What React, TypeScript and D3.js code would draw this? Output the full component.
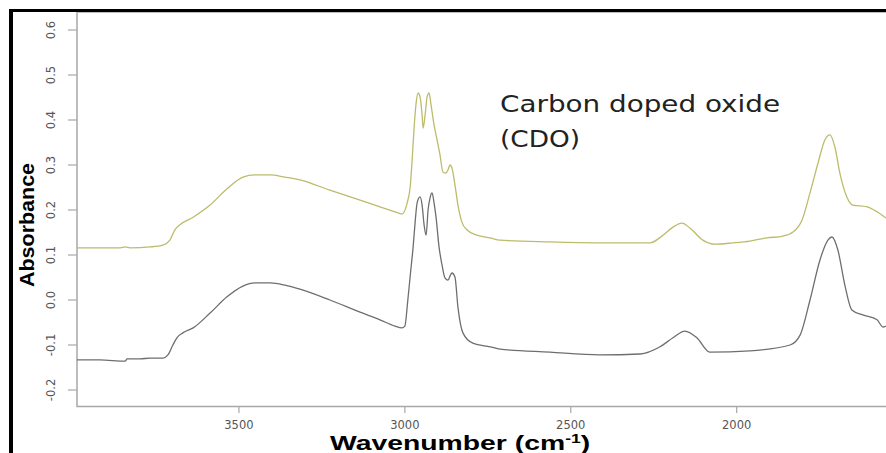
import React from "react";
import * as d3 from "d3";

const cdoWavenumber = [3988, 3919, 3858, 3843, 3828, 3768, 3729, 3708, 3693, 3678, 3638, 3587, 3536, 3488, 3452, 3406, 3361, 3316, 3226, 3135, 3075, 3030, 3009, 2993, 2984, 2978, 2972, 2966, 2960, 2954, 2948, 2945, 2939, 2933, 2927, 2921, 2912, 2903, 2894, 2885, 2876, 2870, 2864, 2858, 2849, 2840, 2828, 2813, 2783, 2743, 2713, 2563, 2412, 2291, 2261, 2222, 2192, 2165, 2141, 2102, 2066, 2011, 1960, 1909, 1860, 1830, 1803, 1779, 1755, 1734, 1719, 1704, 1689, 1668, 1650, 1607, 1577, 1550];
const cdoAbsorbance = [0.116, 0.116, 0.116, 0.118, 0.116, 0.118, 0.122, 0.133, 0.156, 0.167, 0.184, 0.211, 0.247, 0.273, 0.278, 0.278, 0.273, 0.267, 0.244, 0.222, 0.207, 0.196, 0.191, 0.216, 0.251, 0.311, 0.384, 0.438, 0.46, 0.451, 0.411, 0.382, 0.411, 0.451, 0.46, 0.433, 0.389, 0.356, 0.322, 0.284, 0.282, 0.289, 0.3, 0.293, 0.256, 0.211, 0.173, 0.156, 0.144, 0.138, 0.133, 0.129, 0.127, 0.127, 0.127, 0.144, 0.162, 0.171, 0.16, 0.133, 0.124, 0.127, 0.131, 0.138, 0.142, 0.151, 0.178, 0.238, 0.304, 0.356, 0.367, 0.34, 0.282, 0.229, 0.211, 0.207, 0.196, 0.182];

const refWavenumber = [3988, 3919, 3843, 3837, 3798, 3768, 3729, 3714, 3699, 3687, 3669, 3638, 3587, 3536, 3488, 3452, 3406, 3361, 3316, 3226, 3135, 3075, 3030, 3009, 3000, 2991, 2982, 2975, 2969, 2963, 2954, 2948, 2942, 2936, 2930, 2924, 2918, 2912, 2906, 2897, 2888, 2879, 2870, 2864, 2858, 2849, 2840, 2825, 2795, 2743, 2713, 2563, 2412, 2291, 2231, 2192, 2156, 2120, 2081, 1960, 1839, 1809, 1779, 1749, 1725, 1713, 1695, 1674, 1653, 1620, 1577, 1559, 1550];
const refAbsorbance = [-0.133, -0.133, -0.136, -0.131, -0.131, -0.129, -0.129, -0.122, -0.1, -0.084, -0.073, -0.062, -0.029, 0.007, 0.031, 0.038, 0.038, 0.033, 0.024, 0.0, -0.027, -0.044, -0.058, -0.062, -0.058, 0.0, 0.067, 0.118, 0.173, 0.216, 0.229, 0.211, 0.167, 0.144, 0.2, 0.227, 0.238, 0.216, 0.184, 0.118, 0.078, 0.049, 0.044, 0.053, 0.06, 0.051, -0.016, -0.073, -0.096, -0.104, -0.109, -0.116, -0.122, -0.12, -0.104, -0.084, -0.069, -0.084, -0.116, -0.113, -0.1, -0.078, 0.0, 0.089, 0.133, 0.14, 0.111, 0.033, -0.022, -0.033, -0.044, -0.06, -0.058];

const xTicks = [3500, 3000, 2500, 2000];
const yTicks = [0.6, 0.5, 0.4, 0.3, 0.2, 0.1, 0.0, -0.1, -0.2];

const W = 886;
const H = 453;

export default function App() {
  const x = d3.scaleLinear().domain([3988, 1550]).range([77, 886]);
  const y = d3.scaleLinear().domain([-0.2, 0.6]).range([390, 30]);

  const gen = d3
    .line<[number, number]>()
    .x((d) => x(d[0]))
    .y((d) => y(d[1]))
    .curve(d3.curveMonotoneX);

  const cdo: [number, number][] = cdoWavenumber.map((w, i) => [w, cdoAbsorbance[i]]);
  const ref: [number, number][] = refWavenumber.map((w, i) => [w, refAbsorbance[i]]);

  const plotTop = 12;
  const plotBottom = 406.5;
  const plotLeft = 77;

  return (
    <svg
      width={W}
      height={H}
      style={{ position: "absolute", left: 0, top: 0, background: "#fff" }}
      fontFamily="DejaVu Sans, sans-serif"
    >
      <rect x={0} y={0} width={W} height={H} fill="#fff" />
      <defs>
        <clipPath id="plotclip">
          <rect x={plotLeft} y={plotTop} width={W - plotLeft} height={plotBottom - plotTop} />
        </clipPath>
      </defs>
      {/* plot box */}
      <path
        d={`M${W + 5},${plotTop}H${plotLeft}V${plotBottom}H${W + 5}`}
        fill="none"
        stroke="#a8a8a8"
        strokeWidth={1.5}
      />
      {/* y ticks */}
      {yTicks.map((t) => (
        <g key={"y" + t}>
          <line x1={68} x2={plotLeft} y1={y(t)} y2={y(t)} stroke="#a8a8a8" strokeWidth={1.2} />
          <text
            transform={`translate(55,${y(t)}) rotate(-90)`}
            textAnchor="middle"
            fontSize={11.5}
            fill="#555"
          >
            {t.toFixed(1)}
          </text>
        </g>
      ))}
      {/* x ticks */}
      {xTicks.map((t) => (
        <g key={"x" + t}>
          <line x1={x(t)} x2={x(t)} y1={plotBottom} y2={413} stroke="#a8a8a8" strokeWidth={1.2} />
          <text x={x(t)} y={429} textAnchor="middle" fontSize={11.5} fill="#555">
            {t}
          </text>
        </g>
      ))}
      <g clipPath="url(#plotclip)">
        <path d={gen(ref) || ""} fill="none" stroke="#6e6e6e" strokeWidth={1.3} />
        <path d={gen(cdo) || ""} fill="none" stroke="#bcbc6c" strokeWidth={1.3} />
      </g>
      {/* annotation */}
      <text x={500} y={112} fontSize={23} fill="#222" textLength={280} lengthAdjust="spacingAndGlyphs">
        Carbon doped oxide
      </text>
      <text x={500} y={147} fontSize={23} fill="#222" textLength={80} lengthAdjust="spacingAndGlyphs">
        (CDO)
      </text>
      {/* axis titles */}
      <text
        transform="translate(34,225) rotate(-90)"
        textAnchor="middle"
        fontFamily="Liberation Sans, Arial, sans-serif"
        fontWeight="bold"
        fontSize={20}
        fill="#000"
        textLength={124}
        lengthAdjust="spacingAndGlyphs"
      >
        Absorbance
      </text>
      <g transform="translate(330,450) scale(1.35,1)">
        <text
          x={0}
          y={0}
          fontFamily="Liberation Sans, Arial, sans-serif"
          fontWeight="bold"
          fontSize={21}
          fill="#000"
        >
          Wavenumber (cm
          <tspan fontSize={13} dy={-7}>-1</tspan>
          <tspan dy={7}>)</tspan>
        </text>
      </g>
      {/* outer black frame */}
      <line x1={11} x2={11} y1={9} y2={H} stroke="#000" strokeWidth={4} />
      <line x1={9} x2={W} y1={10.5} y2={10.5} stroke="#000" strokeWidth={3} />
    </svg>
  );
}
